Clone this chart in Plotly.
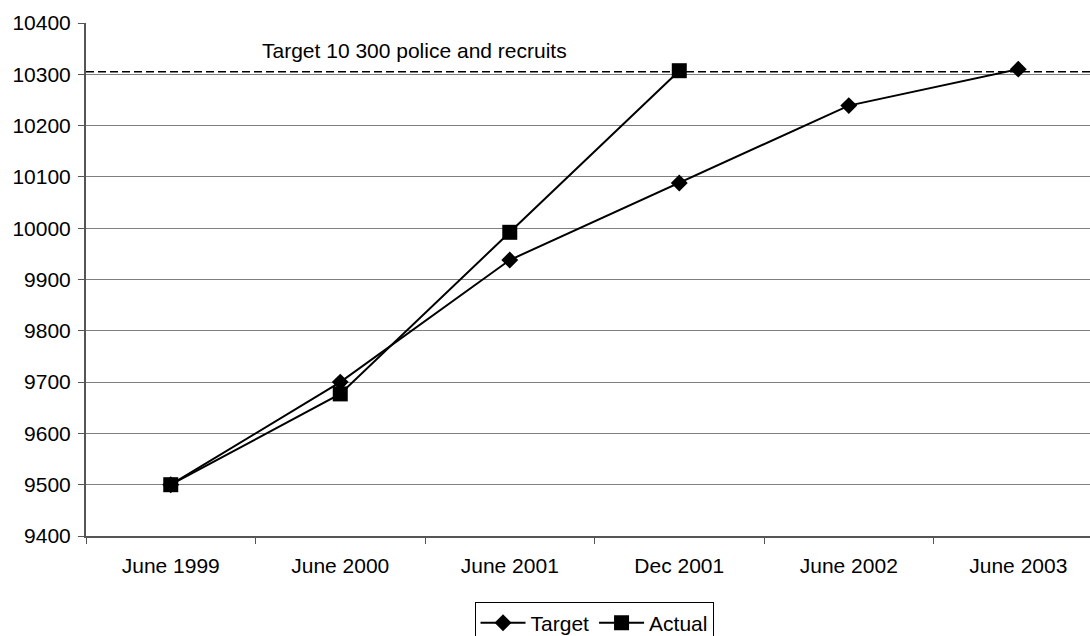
import plotly.graph_objects as go

# Police strength: target path vs actual numbers
periods = ["June 1999", "June 2000", "June 2001", "Dec 2001", "June 2002", "June 2003"]
target_values = [9500, 9700, 9938, 10088, 10239, 10310]
actual_periods = ["June 1999", "June 2000", "June 2001", "Dec 2001"]
actual_values = [9500, 9677, 9992, 10307]
goal_level = 10305
goal_label = "Target 10 300 police and recruits"
y_ticks = [9400, 9500, 9600, 9700, 9800, 9900, 10000, 10100, 10200, 10300, 10400]

FONT = "Liberation Sans, Arial, sans-serif"
FS = 21

fig = go.Figure()
fig.add_trace(go.Scatter(
    x=periods, y=target_values, name="Target", mode="lines+markers",
    line=dict(color="black", width=2),
    marker=dict(symbol="diamond", size=13, color="black"),
))
fig.add_trace(go.Scatter(
    x=actual_periods, y=actual_values, name="Actual", mode="lines+markers",
    line=dict(color="black", width=2),
    marker=dict(symbol="square", size=15, color="black"),
))

# dashed goal line across the plot
fig.add_shape(type="line", xref="paper", x0=0, x1=1, yref="y", y0=goal_level, y1=goal_level,
              line=dict(color="black", width=1.5, dash="8px,4px"))
fig.add_annotation(x=1.44, y=10347, xref="x", yref="y", text=goal_label, showarrow=False,
                   xanchor="center", yanchor="middle", font=dict(size=FS, color="black", family=FONT))

fig.update_layout(
    width=1090, height=636,
    margin=dict(l=86, r=0, t=23, b=100, autoexpand=False),
    paper_bgcolor="white", plot_bgcolor="white",
    font=dict(family=FONT, size=FS, color="black"),
    showlegend=True,
    legend=dict(orientation="h", x=0.506, xanchor="center", y=-0.128, yanchor="top",
                bordercolor="black", borderwidth=1, font=dict(size=FS, color="black"),
                itemwidth=45, tracegroupgap=0),
)
fig.update_xaxes(
    type="category", categoryorder="array", categoryarray=periods,
    range=[-0.5, 5.423], showgrid=False,
    showline=True, linecolor="#555555", linewidth=2,
    ticks="outside", tickson="boundaries", ticklen=6, tickcolor="#555555", tickwidth=1,
    ticklabelstandoff=10, tickfont=dict(size=FS, color="black"),
)
fig.update_yaxes(
    range=[9400, 10400], tickvals=y_ticks, tickformat="d",
    showgrid=True, gridcolor="#808080", gridwidth=1,
    showline=True, linecolor="#555555", linewidth=2, zeroline=False,
    ticks="outside", ticklen=6, tickcolor="#555555", tickwidth=1,
    ticklabelstandoff=3, tickfont=dict(size=FS, color="black"),
)

fig.write_html("out.html")
